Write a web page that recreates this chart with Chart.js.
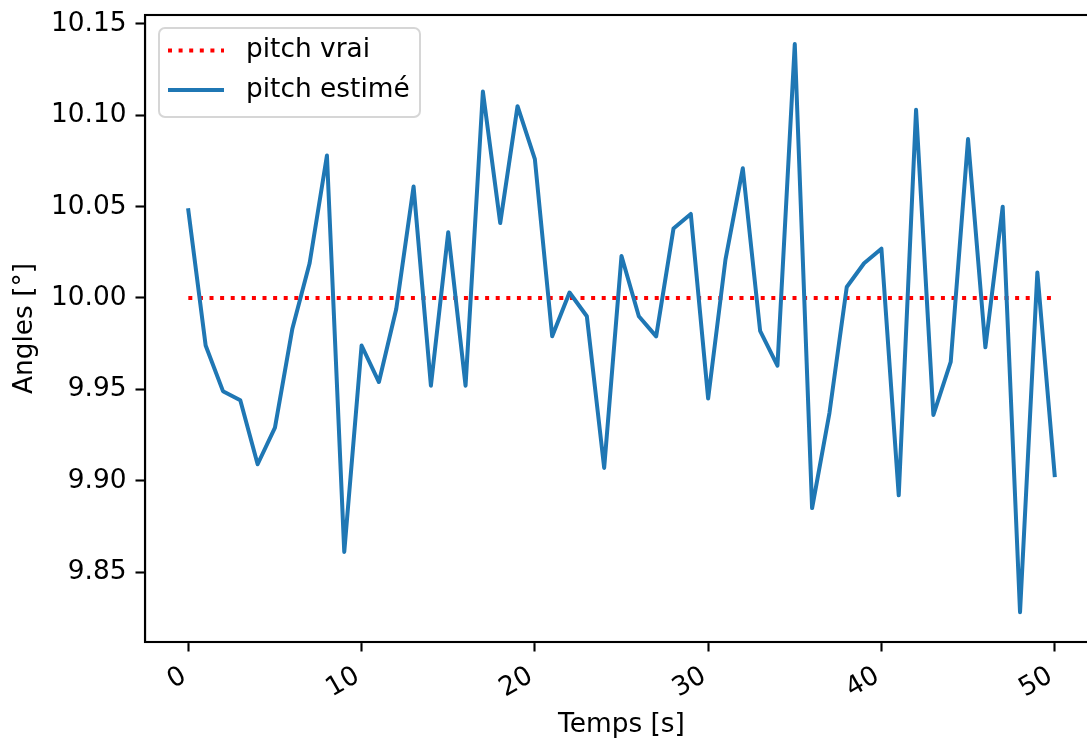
<!DOCTYPE html>
<html>
<head>
<meta charset="utf-8">
<title>pitch</title>
<script src="https://cdn.jsdelivr.net/npm/chart.js@4.4.0/dist/chart.umd.min.js"></script>
<style>
    html, body { margin: 0; padding: 0; background: #fff; overflow: hidden; }
    #wrap { width: 1120px; height: 738px; }
</style>
</head>
<body>
<div id="wrap"><canvas id="pitch-chart" width="1120" height="738"></canvas></div>
<script>
    // temps [s]
    const times = [0, 1, 2, 3, 4, 5, 6, 7, 8, 9,
        10, 11, 12, 13, 14, 15, 16, 17, 18, 19,
        20, 21, 22, 23, 24, 25, 26, 27, 28, 29,
        30, 31, 32, 33, 34, 35, 36, 37, 38, 39,
        40, 41, 42, 43, 44, 45, 46, 47, 48, 49, 50];

    // pitch vrai (constant)
    const pitchTrue = [10.0, 10.0, 10.0, 10.0, 10.0, 10.0, 10.0, 10.0, 10.0, 10.0,
        10.0, 10.0, 10.0, 10.0, 10.0, 10.0, 10.0, 10.0, 10.0, 10.0,
        10.0, 10.0, 10.0, 10.0, 10.0, 10.0, 10.0, 10.0, 10.0, 10.0,
        10.0, 10.0, 10.0, 10.0, 10.0, 10.0, 10.0, 10.0, 10.0, 10.0,
        10.0, 10.0, 10.0, 10.0, 10.0, 10.0, 10.0, 10.0, 10.0, 10.0, 10.0];

    // pitch estimé
    const pitchEstimated = [10.048, 9.974, 9.949, 9.944, 9.909, 9.929, 9.983, 10.019, 10.078, 9.861,
        9.974, 9.954, 9.994, 10.061, 9.952, 10.036, 9.952, 10.113, 10.041, 10.105,
        10.076, 9.979, 10.003, 9.990, 9.907, 10.023, 9.990, 9.979, 10.038, 10.046,
        9.945, 10.021, 10.071, 9.982, 9.963, 10.139, 9.885, 9.937, 10.006, 10.019,
        10.027, 9.892, 10.103, 9.936, 9.965, 10.087, 9.973, 10.050, 9.828, 10.014, 9.903];

    const xTicks = [0, 10, 20, 30, 40, 50];
    const yTicks = [9.85, 9.90, 9.95, 10.00, 10.05, 10.10, 10.15];
    const xRange = [-2.5, 52.5];
    const yRange = [9.8117, 10.1549];

    const FONT = 'DejaVu Sans';
    const FS = 26.4;
    const LW = 4;

    Chart.defaults.font.family = FONT;
    Chart.defaults.font.size = FS;
    Chart.defaults.color = '#000';

    function toPoints(xs, ys) {
        return xs.map((x, i) => ({ x: x, y: ys[i] }));
    }

    // cadre complet + légende dans le coin haut gauche
    const frameAndLegend = {
        id: 'frameAndLegend',
        afterDatasetsDraw(chart) {
            const ctx = chart.ctx;
            const a = chart.chartArea;
            ctx.save();
            ctx.strokeStyle = '#000';
            ctx.lineWidth = 2.1;
            ctx.setLineDash([]);
            ctx.strokeRect(a.left, a.top, a.right - a.left, a.bottom - a.top);

            const bx = 159, by = 28, bw = 261, bh = 89;
            ctx.beginPath();
            ctx.roundRect(bx, by, bw, bh, 6);
            ctx.fillStyle = 'rgba(255,255,255,0.8)';
            ctx.fill();
            ctx.lineWidth = 2;
            ctx.strokeStyle = 'rgba(204,204,204,0.8)';
            ctx.stroke();

            ctx.font = FS + 'px "' + FONT + '"';
            ctx.textBaseline = 'middle';
            ctx.textAlign = 'left';
            chart.data.datasets.forEach((ds, i) => {
                const cy = 50.5 + i * 39.5;
                ctx.beginPath();
                ctx.strokeStyle = ds.borderColor;
                ctx.lineWidth = ds.borderWidth;
                ctx.lineCap = 'butt';
                ctx.setLineDash(ds.borderDash || []);
                ctx.moveTo(168, cy);
                ctx.lineTo(224, cy);
                ctx.stroke();
                ctx.setLineDash([]);
                ctx.fillStyle = '#000';
                ctx.fillText(ds.label, 246, cy);
            });
            ctx.restore();
        }
    };

    const ctx = document.getElementById('pitch-chart').getContext('2d');
    new Chart(ctx, {
        type: 'line',
        data: {
            datasets: [{
                label: 'pitch vrai',
                data: toPoints(times, pitchTrue),
                borderColor: '#ff0000',
                borderWidth: LW,
                borderDash: [4, 6.6],
                borderCapStyle: 'butt',
                pointRadius: 0,
                tension: 0,
                order: 2
            }, {
                label: 'pitch estimé',
                data: toPoints(times, pitchEstimated),
                borderColor: '#1f77b4',
                borderWidth: LW,
                borderJoinStyle: 'round',
                borderCapStyle: 'square',
                pointRadius: 0,
                tension: 0,
                order: 1
            }]
        },
        options: {
            responsive: false,
            animation: false,
            layout: { padding: { left: 0, right: 22, top: 15, bottom: 0 } },
            plugins: {
                legend: { display: false },
                tooltip: { enabled: false }
            },
            scales: {
                x: {
                    type: 'linear',
                    min: xRange[0],
                    max: xRange[1],
                    afterBuildTicks: (s) => { s.ticks = xTicks.map(v => ({ value: v })); },
                    afterFit: (s) => {
                        s.height = 96;
                        s.paddingLeft = 0; s.paddingRight = 0;
                    },
                    ticks: {
                        autoSkip: false,
                        minRotation: 30,
                        maxRotation: 30,
                        padding: 9,
                        labelOffset: -4,
                        callback: (v) => String(v)
                    },
                    grid: {
                        drawOnChartArea: false,
                        drawTicks: true,
                        tickLength: 9.5,
                        tickWidth: 2.1,
                        tickColor: '#000',
                        color: '#000'
                    },
                    border: { display: true, color: '#000', width: 2.1 },
                    title: {
                        display: true,
                        text: 'Temps [s]',
                        padding: { top: 0, bottom: -2.5 }
                    }
                },
                y: {
                    type: 'linear',
                    min: yRange[0],
                    max: yRange[1],
                    afterBuildTicks: (s) => { s.ticks = yTicks.map(v => ({ value: v })); },
                    afterFit: (s) => {
                        s.width = 145;
                        s.paddingTop = 0; s.paddingBottom = 0;
                    },
                    ticks: {
                        padding: 9,
                        callback: (v) => v.toFixed(2)
                    },
                    grid: {
                        drawOnChartArea: false,
                        drawTicks: true,
                        tickLength: 9.5,
                        tickWidth: 2.1,
                        tickColor: '#000',
                        color: '#000'
                    },
                    border: { display: true, color: '#000', width: 2.1 },
                    title: {
                        display: true,
                        text: 'Angles [°]',
                        padding: { top: 9, bottom: 0 }
                    }
                }
            }
        },
        plugins: [frameAndLegend]
    });
</script>
</body>
</html>
